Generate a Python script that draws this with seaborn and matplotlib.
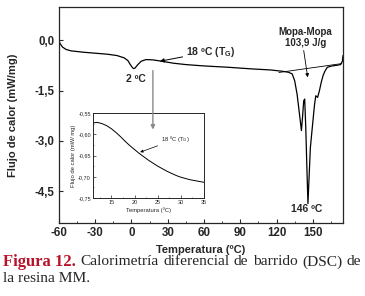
import numpy as np
import pandas as pd
import matplotlib
matplotlib.use("Agg")
import matplotlib.pyplot as plt
import seaborn as sns
from matplotlib.ticker import FuncFormatter, MultipleLocator

# DSC curve
temp = [-60, -59, -57, -54, -50, -45, -40, -30, -20, -12, -6, -3, -1, 1, 2, 3, 5, 8, 12, 18,
        25, 35, 45, 60, 80, 100, 115, 125, 130, 133, 135, 137, 139, 140.6, 141.5, 142.5, 143.3,
        144.2, 145.2, 146, 146.8, 148, 150, 151.5, 152.5, 154, 155.5, 157, 158.5, 160, 162,
        166, 170, 173, 174.5, 175]
flow = [0.0, -0.1, -0.2, -0.27, -0.31, -0.33, -0.35, -0.38, -0.41, -0.45, -0.52, -0.6, -0.72,
        -0.82, -0.84, -0.82, -0.73, -0.62, -0.57, -0.58, -0.62, -0.68, -0.72, -0.76, -0.8,
        -0.85, -0.88, -0.92, -0.95, -1.0, -1.2, -1.6, -2.2, -2.69, -2.3, -1.8, -1.75, -2.6,
        -3.9, -4.87, -4.2, -3.2, -2.45, -1.9, -1.65, -1.7, -1.5, -1.25, -1.05, -0.92, -0.8,
        -0.76, -0.74, -0.72, -0.62, -0.45]

# integration baseline under the melting peak
base_temp = [122, 174]
base_flow = [-0.955, -0.69]

# zoom on the glass transition
ins_temp = [11, 12, 13, 14, 15, 16, 17, 18, 19, 20, 21, 22, 23, 24, 25, 26, 27, 28, 29, 30,
            31, 32, 33, 34, 35]
ins_flow = [-0.573, -0.572, -0.575, -0.580, -0.587, -0.596, -0.606, -0.617, -0.627, -0.636,
            -0.645, -0.653, -0.661, -0.668, -0.675, -0.681, -0.687, -0.692, -0.697, -0.701,
            -0.704, -0.707, -0.709, -0.711, -0.713]

x_ticks = [-60, -30, 0, 30, 60, 90, 120, 150]
y_ticks = [0.0, -1.5, -3.0, -4.5]
ins_x_ticks = [15, 20, 25, 30, 35]
ins_y_ticks = [-0.55, -0.60, -0.65, -0.70, -0.75]

caption_1 = ["Figura 12.", "Calorimetría", "diferencial", "de", "barrido", "(DSC)", "de"]
caption_2 = "la resina MM."

df = pd.DataFrame({"T": temp, "F": flow})
dfi = pd.DataFrame({"T": ins_temp, "F": ins_flow})

sns.set_style("ticks")
plt.rcParams["font.family"] = ["Liberation Sans", "DejaVu Sans"]
plt.rcParams["mathtext.default"] = "regular"
plt.rcParams["xtick.direction"] = "in"
plt.rcParams["ytick.direction"] = "in"

fig = plt.figure(figsize=(3.65, 2.96), dpi=100)
ax = fig.add_axes([0.1616, 0.2466, 0.7781, 0.7298])

sns.lineplot(data=df, x="T", y="F", ax=ax, color="black", lw=0.9, sort=False)
sns.lineplot(x=base_temp, y=base_flow, ax=ax, color="black", lw=0.6)

ax.set_xlim(-60, 175)
ax.set_ylim(-5.45, 1.0)
ax.set_xticks(x_ticks)
ax.set_yticks(y_ticks)
ax.xaxis.set_minor_locator(MultipleLocator(15))
ax.xaxis.set_major_formatter(FuncFormatter(lambda v, p: f"{v:.0f}"))
ax.yaxis.set_major_formatter(FuncFormatter(lambda v, p: f"{v:.1f}".replace(".", ",")))
ax.tick_params(which="major", length=3, width=0.8, labelsize=8.3, pad=3)
ax.tick_params(which="minor", length=1.5, width=0.6)
for lab in ax.get_xticklabels() + ax.get_yticklabels():
    lab.set_fontweight("bold")
for s in ax.spines.values():
    s.set_linewidth(0.9)
ax.set_xlabel("Temperatura (ºC)", fontsize=8, fontweight="bold", labelpad=4)
ax.set_ylabel("Flujo de calor (mW/mg)", fontsize=8, fontweight="bold", labelpad=12)

ax.text(3.6, -1.16, "2 ºC", fontsize=7.5, fontweight="bold", ha="center", va="center")
ax.annotate("18 ºC (T$_G$)", xy=(23.5, -0.62), xytext=(45, -0.33), fontsize=7.5,
            fontweight="bold", ha="left", va="center",
            arrowprops=dict(arrowstyle="-|>", color="black", lw=0.7, mutation_scale=6,
                            shrinkA=0, shrinkB=0))
ax.text(144.1, 0.1, "Mopa-Mopa\n103,9 J/g", fontsize=7, fontweight="bold", ha="center",
        va="center", linespacing=1.1)
ax.annotate("", xy=(145.8, -1.1), xytext=(142.5, -0.3),
            arrowprops=dict(arrowstyle="-|>", color="black", lw=0.6, mutation_scale=5,
                            shrinkA=0, shrinkB=0))
ax.text(145, -5.04, "146 ºC", fontsize=7.5, fontweight="bold", ha="center", va="center")

# inset
axi = fig.add_axes([0.2548, 0.331, 0.304, 0.287])
axi.set_facecolor("white")
sns.lineplot(data=dfi, x="T", y="F", ax=axi, color="black", lw=0.7)
axi.set_xlim(11, 35)
axi.set_ylim(-0.75, -0.55)
axi.set_xticks(ins_x_ticks)
axi.set_yticks(ins_y_ticks)
axi.xaxis.set_minor_locator(MultipleLocator(2.5))
axi.yaxis.set_minor_locator(MultipleLocator(0.025))
axi.yaxis.set_major_formatter(FuncFormatter(lambda v, p: f"{v:.2f}".replace(".", ",")))
axi.tick_params(which="major", length=2, width=0.5, labelsize=4, pad=1.5)
axi.tick_params(which="minor", length=1, width=0.4)
for s in axi.spines.values():
    s.set_linewidth(0.7)
axi.set_xlabel("Temperatura (ºC)", fontsize=4.2, labelpad=1.5)
axi.set_ylabel("Flujo de calor (mW/ mg)", fontsize=4.2, labelpad=1.5)
axi.annotate("18 ºC (T$_G$)", xy=(21.2, -0.642), xytext=(25.7, -0.612), fontsize=4.2,
             ha="left", va="center",
             arrowprops=dict(arrowstyle="-|>", color="black", lw=0.5, mutation_scale=4,
                             shrinkA=0, shrinkB=0))

# grey arrow from the 2 ºC dip down into the inset, drawn on top of the inset
axi.annotate("", xy=(17.7, -2.66), xycoords=ax.transData, xytext=(17.7, -0.9),
             textcoords=ax.transData, annotation_clip=False,
             arrowprops=dict(arrowstyle="-|>", color="#8a8a8a", lw=1.0, mutation_scale=6,
                             shrinkA=0, shrinkB=0))

# caption, first line justified
cap_size = 11.1
x_left, x_right = 3 / 365, 361 / 365
renderer = fig.canvas.get_renderer()
words = []
for i, w in enumerate(caption_1):
    if i == 0:
        t = fig.text(0, 0.115, w, fontsize=12, color="#b8122a", fontweight="bold",
                     family="Liberation Serif", va="center", ha="left")
    else:
        t = fig.text(0, 0.115, w, fontsize=cap_size, family="Liberation Serif",
                     va="center", ha="left")
    words.append(t)
widths = [t.get_window_extent(renderer).width / fig.bbox.width for t in words]
gap = (x_right - x_left - sum(widths)) / (len(words) - 1)
x = x_left
for t, w in zip(words, widths):
    t.set_x(x)
    x += w + gap
fig.text(x_left, 0.058, caption_2, fontsize=cap_size, family="Liberation Serif",
         va="center", ha="left")

plt.savefig("out.png", dpi=100)
